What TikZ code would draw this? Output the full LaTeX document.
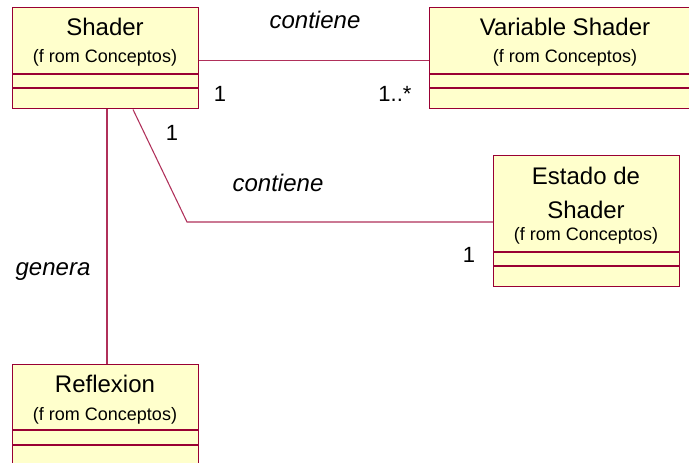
\documentclass[tikz,border=0pt]{standalone}
\usepackage{fontspec}
\setmainfont{Liberation Sans}
\definecolor{classfill}{HTML}{FFFFCC}
\definecolor{classedge}{HTML}{990033}
\definecolor{assoc}{HTML}{B0305A}
\begin{document}
\begin{tikzpicture}[x=0.75pt,y=-0.75pt,
  classbox/.style={draw=classedge,fill=classfill,line width=1.1pt,rectangle,inner sep=0pt,anchor=north west},
  compline/.style={draw=classedge,line width=0.9pt},
  link/.style={draw=assoc,line width=0.8pt},
  cname/.style={font=\fontsize{18}{20}\selectfont,inner sep=0pt},
  cfrom/.style={font=\fontsize{13.5}{15}\selectfont,inner sep=0pt},
  rolename/.style={font=\fontsize{18}{20}\selectfont\itshape,inner sep=0pt},
  mult/.style={font=\fontsize{16.5}{18}\selectfont,inner sep=0pt}]
\useasboundingbox (0,0) rectangle (689,463);
\fill[white] (0,0) rectangle (689,463);

% class boxes
\node[classbox,minimum width=186*0.75pt,minimum height=101*0.75pt] (shader) at (12,7) {};
\node[classbox,minimum width=272*0.75pt,minimum height=101*0.75pt] (var) at (429,7) {};
\node[classbox,minimum width=186*0.75pt,minimum height=131*0.75pt] (estado) at (493,155) {};
\node[classbox,minimum width=186*0.75pt,minimum height=120*0.75pt] (refl) at (12,364) {};

% compartment separators
\draw[compline] (12,74) -- (198,74) (12,88) -- (198,88);
\draw[compline] (429,74) -- (701,74) (429,88) -- (701,88);
\draw[compline] (493,252) -- (679,252) (493,266) -- (679,266);
\draw[compline] (12,430) -- (198,430) (12,445) -- (198,445);

% class texts
\node[cname] (shadertitle) at (105,27) {Shader};
\node[cfrom] (shaderfrom) at (105,58) {(f rom Conceptos)};
\node[cname] (vartitle) at (565,27) {Variable Shader};
\node[cfrom] (varfrom) at (565,58) {(f rom Conceptos)};
\node[cname] (estadot1) at (586,176) {Estado de};
\node[cname] (estadot2) at (586,210) {Shader};
\node[cfrom] (estadofrom) at (586,236) {(f rom Conceptos)};
\node[cname] (refltitle) at (105,384) {Reflexion};
\node[cfrom] (reflfrom) at (105,416) {(f rom Conceptos)};

% associations
\coordinate (bend) at (187,222);
\draw[link] ([yshift=-2.5*0.75pt]shader.east) -- ([yshift=-2.5*0.75pt]shader.east -| var.west);
\draw[link] (shader.south -| 133,0) -- (bend) -- (bend -| estado.west);
\draw[link] (shader.south -| 107,0) -- (refl.north -| 107,0);

% association labels
\node[rolename] (lab1) at (315,20) {contiene};
\node[rolename] (lab2) at (278,183) {contiene};
\node[rolename] (lab3) at (53,272) {genera};
\node[mult] (m1) at (220,94) {1};
\node[mult] (m2) at (395,94) {1..*};
\node[mult] (m3) at (172,133) {1};
\node[mult] (m4) at (469,255) {1};
\end{tikzpicture}
\end{document}
